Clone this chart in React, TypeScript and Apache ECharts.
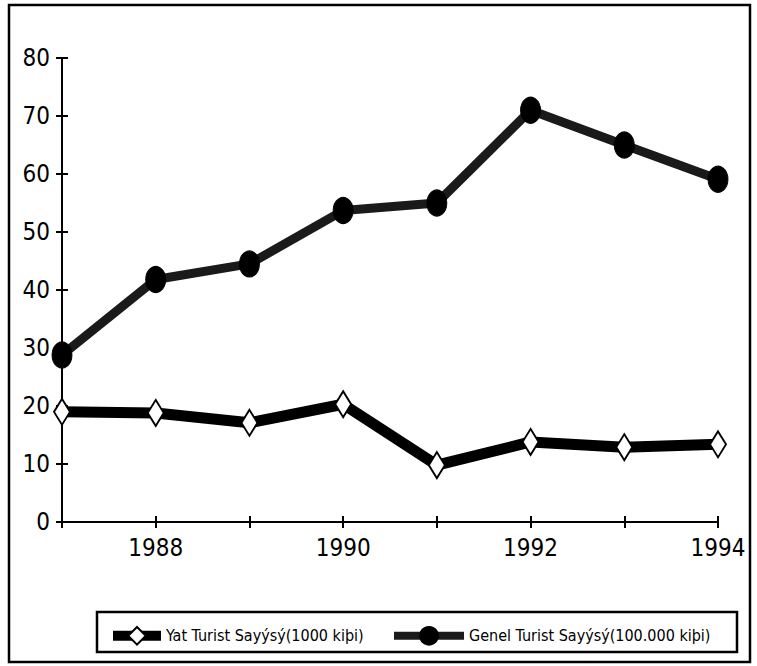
import React, { useEffect, useRef } from "react";
import * as echarts from "echarts";

const years = ["1987", "1988", "1989", "1990", "1991", "1992", "1993", "1994"];
const yatTurist = [19.0, 18.8, 17.1, 20.3, 9.8, 13.8, 12.9, 13.4];
const genelTurist = [28.8, 41.8, 44.5, 53.7, 55.0, 71.0, 65.0, 59.1];
const yatName = "Yat Turist Sayýsý(1000 kiþi)";
const genelName = "Genel Turist Sayýsý(100.000 kiþi)";

const FONT = "'Liberation Sans Narrow', 'DejaVu Sans Condensed', 'Liberation Sans', sans-serif";

export default function App() {
  const ref = useRef<HTMLDivElement>(null);
  useEffect(() => {
    if (!ref.current) return;
    const chart = echarts.init(ref.current, null, { renderer: "svg" });
    const legendText = { fontFamily: FONT, fontSize: 16, color: "#000" };
    const tickStyle = { color: "#000", width: 2 };
    chart.setOption({
      animation: false,
      backgroundColor: "#fff",
      grid: { left: 62, right: 39, top: 58, bottom: 144 },
      graphic: [
        {
          type: "rect",
          shape: { x: 9, y: 5, width: 741, height: 657 },
          style: { fill: "none", stroke: "#000", lineWidth: 2.5 },
          silent: true,
        },
        {
          type: "rect",
          shape: { x: 97, y: 612, width: 640, height: 40 },
          style: { fill: "none", stroke: "#000", lineWidth: 2.5 },
          silent: true,
        },
      ],
      legend: [
        {
          left: 103,
          top: 621,
          itemWidth: 48,
          itemHeight: 22,
          textStyle: legendText,
          data: [{ name: yatName, lineStyle: { width: 10, color: "#000" } }],
        },
        {
          left: 385,
          top: 621,
          itemWidth: 70,
          itemHeight: 22,
          textStyle: legendText,
          data: [{ name: genelName, lineStyle: { width: 8, color: "#1a1a1a" } }],
        },
      ],
      xAxis: [
        {
          type: "category",
          data: years,
          boundaryGap: false,
          axisLine: { lineStyle: { color: "#000", width: 2 } },
          axisTick: { show: true, length: 6, lineStyle: tickStyle, interval: 0 },
          axisLabel: {
            interval: (i: number) => i % 2 === 1,
            fontFamily: FONT,
            fontSize: 24,
            color: "#000",
            margin: 14,
          },
          splitLine: { show: false },
        },
        {
          type: "category",
          data: years,
          position: "bottom",
          boundaryGap: false,
          axisLine: { show: true, onZero: false, lineStyle: { color: "#000", width: 2 } },
          axisTick: { show: true, inside: true, length: 6, lineStyle: tickStyle, interval: 0 },
          axisLabel: { show: false },
          splitLine: { show: false },
        },
      ],
      yAxis: [
        {
          type: "value",
          min: 0,
          max: 80,
          interval: 10,
          axisLine: { show: true, lineStyle: { color: "#000", width: 2 } },
          axisTick: { show: true, length: 6, lineStyle: tickStyle },
          axisLabel: { fontFamily: FONT, fontSize: 24, color: "#000", margin: 12 },
          splitLine: { show: false },
        },
        {
          type: "value",
          min: 0,
          max: 80,
          interval: 10,
          position: "left",
          axisLine: { show: true, onZero: false, lineStyle: { color: "#000", width: 2 } },
          axisTick: { show: true, inside: true, length: 6, lineStyle: tickStyle },
          axisLabel: { show: false },
          splitLine: { show: false },
        },
      ],
      series: [
        {
          name: yatName,
          type: "line",
          data: yatTurist,
          lineStyle: { color: "#000", width: 11 },
          itemStyle: { color: "#fff", borderColor: "#000", borderWidth: 2 },
          symbol: "diamond",
          symbolSize: [16, 26],
          showAllSymbol: true,
          z: 3,
        },
        {
          name: genelName,
          type: "line",
          data: genelTurist,
          lineStyle: { color: "#1a1a1a", width: 9 },
          itemStyle: { color: "#000", borderColor: "#000", borderWidth: 1 },
          symbol: "circle",
          symbolSize: [20, 26],
          showAllSymbol: true,
          z: 2,
        },
      ],
    });
    return () => chart.dispose();
  }, []);
  return (
    <div
      ref={ref}
      style={{ position: "fixed", left: 0, top: 0, width: 757, height: 666 }}
    />
  );
}
